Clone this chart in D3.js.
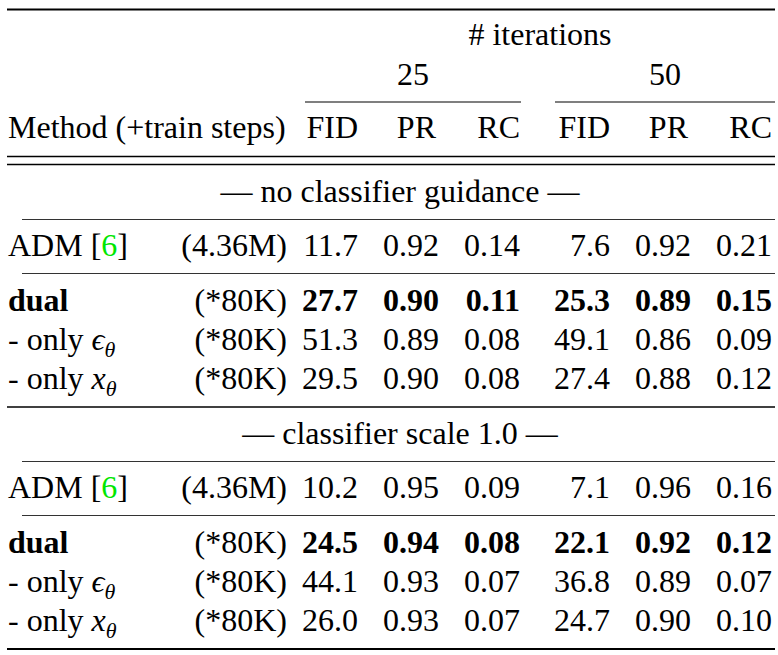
<!DOCTYPE html>
<html>
<head>
  <meta charset="utf-8"/>
  <title>Table</title>
  <style type="text/css">
    body {
      padding:0;
      margin:0;
      background-color:white;
    }
    svg text {
      font-family: "Liberation Serif", Tinos, "Times New Roman", Times, "DejaVu Serif", serif;
      font-size: 32px;
      fill: black;
    }
  </style>
  <script src="https://cdn.jsdelivr.net/npm/d3@7/dist/d3.min.js" charset="utf-8"></script>
</head>

<body>
  <script type="text/javascript">

  var w = 778, h = 655;

  // DATA
  var iterations = [25, 50];
  var metrics = ["FID", "PR", "RC"];
  var sections = ["— no classifier guidance —", "— classifier scale 1.0 —"];
  var methods = ["ADM", "dual", "- only ", "- only "];
  var methodMath = [null, null, "ϵ", "x"];
  var trainSteps = ["(4.36M)", "(*80K)", "(*80K)", "(*80K)"];
  var boldRow = [false, true, false, false];

  var noGuidance = [
    [11.7, 0.92, 0.14, 7.6, 0.92, 0.21],
    [27.7, 0.90, 0.11, 25.3, 0.89, 0.15],
    [51.3, 0.89, 0.08, 49.1, 0.86, 0.09],
    [29.5, 0.90, 0.08, 27.4, 0.88, 0.12]
  ];
  var scale10 = [
    [10.2, 0.95, 0.09, 7.1, 0.96, 0.16],
    [24.5, 0.94, 0.08, 22.1, 0.92, 0.12],
    [44.1, 0.93, 0.07, 36.8, 0.89, 0.07],
    [26.0, 0.93, 0.07, 24.7, 0.90, 0.10]
  ];
  var sectionValues = [noGuidance, scale10];

  var fmtFid = d3.format(".1f"), fmtPr = d3.format(".2f");

  // LAYOUT
  var ruleLeft = 7, ruleRight = 775, subRuleLeft = 22;
  var nameX = 8, stepsX = 287;
  // right edge of each numeric column, one scale per iteration group
  var groupX = [
    d3.scaleLinear().domain([0, 2]).range([358, 520]),
    d3.scaleLinear().domain([0, 2]).range([610, 772])
  ];
  function colX(i) { return groupX[Math.floor(i / 3)](i % 3); }
  var colW = 53;

  var svg = d3.select("body").append("svg")
              .attr("width", w)
              .attr("height", h);

  function rule(y, x1, x2, width, color) {
    svg.append("line")
       .attr("x1", x1).attr("x2", x2)
       .attr("y1", y).attr("y2", y)
       .style("stroke", color || "black")
       .style("stroke-width", width);
  }

  // header
  rule(9.5, ruleLeft, ruleRight, 2);

  svg.append("text")
     .attr("x", (colX(0) - colW + ruleRight) / 2)
     .attr("y", 45)
     .attr("text-anchor", "middle")
     .text("# iterations");

  iterations.forEach(function(it, g) {
    var x1 = colX(g * 3) - colW - 2 * g,
        x2 = g ? ruleRight : colX(g * 3 + 2) + 1;
    svg.append("text")
       .attr("x", (x1 + x2) / 2)
       .attr("y", 85)
       .attr("text-anchor", "middle")
       .text(it);
    rule(102, x1, x2, 1.2);
  });

  svg.append("text")
     .attr("x", nameX)
     .attr("y", 138)
     .text("Method (+train steps)");

  svg.selectAll("text.metric")
     .data(d3.range(6))
     .enter().append("text")
     .attr("class", "metric")
     .attr("x", function(i) { return colX(i) - (i % 3 === 1 ? 3 : 0); })
     .attr("y", 138)
     .attr("text-anchor", "end")
     .text(function(i) { return metrics[i % 3]; });

  rule(156.5, ruleLeft, ruleRight, 1.3);
  rule(164.5, ruleLeft, ruleRight, 1.3);

  // body
  var y = 202;
  sections.forEach(function(title, s) {
    svg.append("text")
       .attr("x", 400)
       .attr("y", y)
       .attr("text-anchor", "middle")
       .text(title);

    rule(y + 17.5, subRuleLeft, ruleRight, 1.1, "#333");
    y += 54;

    var vals = sectionValues[s];
    vals.forEach(function(row, r) {
      var weight = boldRow[r] ? "bold" : "normal";

      var name = svg.append("text")
                    .attr("x", nameX)
                    .attr("y", y)
                    .style("font-weight", weight)
                    .text(methods[r]);
      if (r === 0) {
        name.append("tspan").text(" [");
        name.append("tspan").style("fill", "#00e600").text("6");
        name.append("tspan").text("]");
      }
      if (methodMath[r]) {
        name.append("tspan")
            .style("font-style", "italic")
            .text(methodMath[r]);
        name.append("tspan")
            .style("font-style", "italic")
            .style("font-size", "22px")
            .attr("dy", 7)
            .text("θ");
      }

      svg.append("text")
         .attr("x", stepsX)
         .attr("y", y)
         .attr("text-anchor", "end")
         .text(trainSteps[r]);

      svg.selectAll(null)
         .data(row)
         .enter().append("text")
         .attr("x", function(d, i) { return colX(i); })
         .attr("y", y)
         .attr("text-anchor", "end")
         .style("font-weight", weight)
         .text(function(d, i) { return i % 3 === 0 ? fmtFid(d) : fmtPr(d); });

      if (r === 0) {
        rule(y + 17.5, subRuleLeft, ruleRight, 1.1, "#333");
        y += 55;
      } else {
        y += 39;
      }
    });

    y -= 39;
    var last = s === sections.length - 1;
    rule(y + 18, ruleLeft, ruleRight, last ? 2.2 : 1.6);
    y += 55;
  });

  </script>
</body>
</html>
